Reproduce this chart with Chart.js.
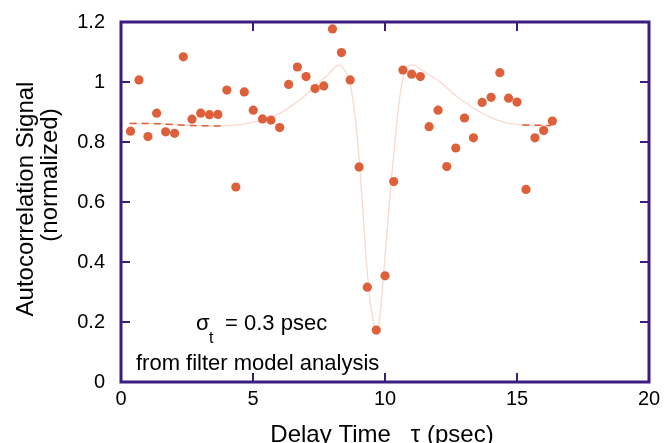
<!DOCTYPE html>
<html>
<head>
<meta charset="utf-8">
<script src="https://cdn.jsdelivr.net/npm/chart.js@4/dist/chart.umd.min.js"></script>
<style>
  html, body { margin: 0; padding: 0; background: #fff; }
</style>
</head>
<body>
<canvas id="graficaAuto" width="671" height="443"></canvas>
<script>
// measured points
const delay = [0.36, 0.68, 1.02, 1.35, 1.69, 2.03, 2.36, 2.69, 3.02, 3.35, 3.67, 4.01, 4.35, 4.67,
  5.01, 5.36, 5.68, 6.01, 6.35, 6.68, 7.01, 7.35, 7.68, 8.01, 8.35, 8.68, 9.02, 9.33, 9.67,
  10.0, 10.33, 10.68, 11.01, 11.34, 11.67, 12.01, 12.34, 12.68, 13.01, 13.35, 13.68, 14.02,
  14.35, 14.68, 15.0, 15.34, 15.68, 16.01, 16.34];
const signal = [0.836, 1.007, 0.818, 0.896, 0.834, 0.829, 1.084, 0.876, 0.896, 0.891, 0.892, 0.973,
  0.650, 0.967, 0.906, 0.877, 0.873, 0.848, 0.992, 1.050, 1.018, 0.978, 0.987, 1.177, 1.098,
  1.007, 0.717, 0.316, 0.173, 0.354, 0.668, 1.040, 1.026, 1.018, 0.851, 0.906, 0.718, 0.780,
  0.880, 0.814, 0.932, 0.949, 1.031, 0.946, 0.933, 0.642, 0.814, 0.838, 0.870];

// filter model fit
const fitDelay = [0.33, 1.0, 1.5, 2.1, 2.9, 3.7, 4.6, 5.25, 5.9, 6.5, 7.15, 7.5, 7.8, 8.05, 8.26,
  8.47, 8.67, 8.80, 8.92, 9.04, 9.17, 9.29, 9.42, 9.55, 9.67, 9.80, 9.92, 10.05, 10.17, 10.30,
  10.40, 10.49, 10.62, 10.81, 11.04, 11.31, 11.57, 12.07, 12.58, 13.08, 13.59, 14.09, 14.6,
  15.1, 15.6, 16.3];
const fitSignal = [0.862, 0.862, 0.861, 0.857, 0.854, 0.854, 0.859, 0.871, 0.890, 0.923, 0.968,
  1.000, 1.020, 1.045, 1.057, 1.040, 1.000, 0.930, 0.845, 0.720, 0.560, 0.407, 0.284, 0.205,
  0.173, 0.218, 0.329, 0.473, 0.600, 0.730, 0.820, 0.900, 0.985, 1.045, 1.057, 1.045, 1.030,
  1.001, 0.962, 0.929, 0.901, 0.879, 0.864, 0.858, 0.855, 0.855];

// dashed baseline pieces (null breaks the line)
const baseDelay = [0.33, 1.4, 2.6, 3.9, 9.7, 15.2, 15.8, 16.3];
const baseSignal = [0.862, 0.861, 0.855, 0.853, null, 0.857, 0.856, 0.855];

const xTicks = [0, 5, 10, 15, 20];
const yTicks = [0, 0.2, 0.4, 0.6, 0.8, 1.0, 1.2];

const fuente = "'Liberation Sans', Arial, Helvetica, sans-serif";
const marco = '#3d1c80';

const pares = (xs, ys) => xs.map((x, i) => ({x: x, y: ys[i]}));

const marcoPlugin = {
  id: 'marco',
  afterDraw(chart) {
    const ctx = chart.ctx;
    const a = chart.chartArea;
    const sx = chart.scales.x, sy = chart.scales.y;
    ctx.save();
    ctx.strokeStyle = marco;
    ctx.lineWidth = 3;
    ctx.strokeRect(a.left, a.top, a.right - a.left, a.bottom - a.top);
    ctx.lineWidth = 2;
    ctx.beginPath();
    xTicks.forEach(v => {
      if (v === xTicks[0] || v === xTicks[xTicks.length - 1]) return;
      const px = Math.round(sx.getPixelForValue(v));
      ctx.moveTo(px, a.bottom); ctx.lineTo(px, a.bottom - 9);
      ctx.moveTo(px, a.top); ctx.lineTo(px, a.top + 9);
    });
    yTicks.forEach(v => {
      if (v === yTicks[0] || v === yTicks[yTicks.length - 1]) return;
      const py = Math.round(sy.getPixelForValue(v));
      ctx.moveTo(a.left, py); ctx.lineTo(a.left + 9, py);
      ctx.moveTo(a.right, py); ctx.lineTo(a.right - 9, py);
    });
    ctx.stroke();

    // axis titles
    ctx.fillStyle = '#000';
    ctx.font = '24px ' + fuente;
    ctx.textAlign = 'center';
    ctx.textBaseline = 'alphabetic';
    ctx.fillText('Delay Time   \u03c4 (psec)', (a.left + a.right) / 2 - 3, 442);
    ctx.save();
    ctx.translate(33, 199);
    ctx.rotate(-Math.PI / 2);
    ctx.fillText('Autocorrelation Signal', 0, 0);
    ctx.restore();
    ctx.save();
    ctx.translate(57, 175);
    ctx.rotate(-Math.PI / 2);
    ctx.fillText('(normalized)', 0, 0);
    ctx.restore();

    // annotation
    ctx.textAlign = 'left';
    ctx.font = '22px ' + fuente;
    ctx.fillText('\u03c3', a.left + 75, 330);
    ctx.fillText('= 0.3 psec', a.left + 104, 330);
    ctx.fillText('from filter model analysis', a.left + 15, 370);
    ctx.font = '16px ' + fuente;
    ctx.fillText('t', a.left + 88, 343);
    ctx.restore();
  }
};

const sinPadding = s => { s.paddingLeft = 0; s.paddingRight = 0; s.paddingTop = 0; s.paddingBottom = 0; };

new Chart(document.getElementById('graficaAuto'), {
  type: 'scatter',
  data: {
    datasets: [{
      label: 'datos',
      data: pares(delay, signal),
      backgroundColor: 'rgb(221, 96, 58)',
      borderWidth: 0,
      pointRadius: 4.6
    }, {
      label: 'base',
      data: pares(baseDelay, baseSignal),
      showLine: true,
      spanGaps: false,
      borderColor: 'rgb(221, 96, 58)',
      borderWidth: 1.5,
      borderDash: [7, 5],
      pointRadius: 0
    }, {
      label: 'ajuste',
      data: pares(fitDelay, fitSignal),
      showLine: true,
      cubicInterpolationMode: 'monotone',
      borderColor: 'rgb(248, 218, 208)',
      borderWidth: 1.3,
      pointRadius: 0
    }]
  },
  options: {
    animation: false,
    responsive: false,
    devicePixelRatio: 1,
    layout: { autoPadding: false, padding: { left: 0, right: 22, top: 22, bottom: 0 } },
    plugins: { legend: { display: false }, tooltip: { enabled: false } },
    scales: {
      x: {
        type: 'linear', min: 0, max: 20,
        grid: { display: false, drawTicks: false, tickLength: 0 },
        border: { display: false },
        afterBuildTicks: s => { s.ticks = xTicks.map(v => ({value: v})); },
        afterFit: s => { s.height = 61; sinPadding(s); },
        ticks: { color: '#000', padding: 5, maxRotation: 0, font: { family: fuente, size: 20 } }
      },
      y: {
        type: 'linear', min: 0, max: 1.2,
        grid: { display: false, drawTicks: false, tickLength: 0 },
        border: { display: false },
        afterBuildTicks: s => { s.ticks = yTicks.map(v => ({value: v})); },
        afterFit: s => { s.width = 121; sinPadding(s); },
        ticks: {
          color: '#000', padding: 16, font: { family: fuente, size: 20 },
          callback: v => String(+v.toFixed(1))
        }
      }
    }
  },
  plugins: [marcoPlugin]
});
</script>
</body>
</html>
